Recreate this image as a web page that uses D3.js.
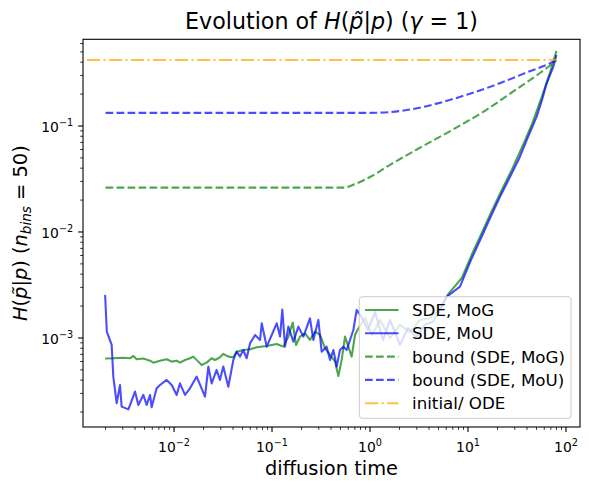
<!DOCTYPE html>
<html>
<head>
<meta charset="utf-8">
<script src="https://cdn.jsdelivr.net/npm/d3@7.9.0/dist/d3.min.js"></script>
<style>
  body { margin: 0; background: #fff; }
  svg { display: block; font-family: "DejaVu Sans", sans-serif; }
</style>
</head>
<body>
<svg id="chart" width="589" height="490"></svg>
<script>
// SDE, MoG (green)
const tMoG = [0.00198, 0.0024, 0.00304, 0.00356, 0.00385, 0.00416, 0.00486, 0.00569, 0.00615, 0.0072,
  0.00841, 0.00946, 0.01064, 0.0115, 0.01294, 0.01455, 0.01574, 0.0177, 0.01914, 0.0215,
  0.0242, 0.0262, 0.0294, 0.0318, 0.0358, 0.0403, 0.0436, 0.0509, 0.0597, 0.0698,
  0.0883, 0.1117, 0.1305, 0.1468, 0.1625, 0.1758, 0.193, 0.217, 0.244, 0.275,
  0.309, 0.348, 0.391, 0.44, 0.475, 0.514, 0.556, 0.601, 0.65, 0.703,
  0.76, 0.889, 1.048, 1.265, 1.6, 2.02, 2.56, 3.24, 4.1, 5.18,
  6.3, 7.4, 8.68, 11.0, 13.9, 17.6, 22.2, 28.1, 35.6, 45.0, 56.9,
  68.7, 80.0];
const hMoG = [6.4e-4, 6.43e-4, 6.5e-4, 6.43e-4, 6.77e-4, 6.3e-4, 6.4e-4, 6.1e-4, 5.85e-4, 6.1e-4,
  6.3e-4, 5.98e-4, 6.1e-4, 5.85e-4, 6.2e-4, 6.43e-4, 6.67e-4, 5.98e-4, 5.56e-4, 5.85e-4,
  6.43e-4, 6.2e-4, 6.57e-4, 7.07e-4, 6.67e-4, 6.57e-4, 7.43e-4, 7.7e-4, 7.82e-4, 8.17e-4,
  8.41e-4, 8.77e-4, 8.28e-4, 1.03e-3, 1.4e-3, 8.59e-4, 1.03e-3, 1.107e-3, 9.58e-4, 1.148e-3,
  1.067e-3, 7.99e-4, 6.92e-4, 5.98e-4, 4.38e-4, 6.2e-4, 1.03e-3, 8.28e-4, 6.67e-4, 1.067e-3,
  1.23e-3, 1.545e-3, 1.067e-3, 1.48e-3, 1.0e-3, 1.33e-3, 1.14e-3, 1.48e-3, 1.545e-3, 1.9e-3,
  2.6e-3, 3.1e-3, 3.7e-3, 6.2e-3, 9.9e-3, 0.016, 0.025, 0.039, 0.063, 0.104, 0.19,
  0.32, 0.51];

// SDE, MoU (blue)
const tMoU = [0.00198, 0.00206, 0.00231, 0.0024, 0.0026, 0.00281, 0.00292, 0.00342, 0.004, 0.00432,
  0.00486, 0.00526, 0.00569, 0.00591, 0.00665, 0.0072, 0.00841, 0.00946, 0.01064, 0.0115,
  0.01294, 0.01455, 0.01702, 0.0207, 0.0224, 0.0242, 0.0272, 0.0294, 0.0318, 0.0358,
  0.0403, 0.0436, 0.0471, 0.0509, 0.0551, 0.0597, 0.0671, 0.0755, 0.0785, 0.0883,
  0.0993, 0.1117, 0.1207, 0.1274, 0.1358, 0.1468, 0.165, 0.1857, 0.209, 0.244,
  0.264, 0.297, 0.321, 0.361, 0.391, 0.423, 0.457, 0.494, 0.535, 0.578,
  0.676, 0.731, 0.828, 0.954, 1.125, 1.358, 1.6, 2.02, 2.44, 2.95,
  3.64, 4.39, 5.18, 6.07, 8.28, 10.5, 13.3, 16.8, 21.2, 26.8,
  33.9, 40.9, 50.2, 56.9, 63.5, 74.2, 80.0];
const hMoU = [2.55e-3, 1.15e-3, 8.6e-4, 4.32e-4, 2.42e-4, 3.6e-4, 2.25e-4, 2.12e-4, 3.12e-4, 2.33e-4,
  2.9e-4, 2.33e-4, 2.9e-4, 2.22e-4, 3.35e-4, 3.6e-4, 4.02e-4, 3.6e-4, 2.9e-4, 3.73e-4,
  2.9e-4, 3.35e-4, 4.32e-4, 2.8e-4, 5.37e-4, 3.73e-4, 4.99e-4, 4.02e-4, 5.37e-4, 3.47e-4,
  6.2e-4, 7.43e-4, 6.67e-4, 7.7e-4, 6.43e-4, 8.91e-4, 1.067e-3, 9.58e-4, 1.375e-3, 8.28e-4,
  1.067e-3, 1.375e-3, 1.03e-3, 1.85e-3, 8.28e-4, 1.28e-3, 9.23e-4, 1.28e-3, 1.03e-3, 1.53e-3,
  9.58e-4, 1.48e-3, 7.43e-4, 8.28e-4, 6.2e-4, 7.7e-4, 5.37e-4, 7.7e-4, 8.28e-4, 7.7e-4,
  1.19e-3, 1.84e-3, 1.545e-3, 1.19e-3, 1.76e-3, 9.57e-4, 1.48e-3, 8.59e-4, 1.24e-3, 1.02e-3,
  1.33e-3, 1.42e-3, 1.84e-3, 2.45e-3, 3.05e-3, 5.2e-3, 8.41e-3, 0.01355, 0.0215, 0.033,
  0.0513, 0.0787, 0.1225, 0.176, 0.253, 0.362, 0.468];

// bounds
const tBoundMoG = [0.002, 0.55, 0.65, 1.0, 1.6, 3.0, 7.67, 15.0, 29.0, 50.0, 74.3, 80.0];
const hBoundMoG = [0.0262, 0.0262, 0.0275, 0.033, 0.043, 0.060, 0.097, 0.14, 0.212, 0.30, 0.395, 0.42];
const tBoundMoU = [0.002, 0.9, 1.265, 2.366, 4.786, 9.68, 19.6, 39.7, 74.3, 80.0];
const hBoundMoU = [0.133, 0.133, 0.1337, 0.1413, 0.1626, 0.197, 0.2466, 0.32, 0.405, 0.42];

// initial / ODE
const tODE = [0.00129, 80.0];
const hODE = [0.42, 0.42];

const xTicks = [1e-2, 1e-1, 1e0, 1e1, 1e2];
const xTickExp = ["\u22122", "\u22121", "0", "1", "2"];
const yTicks = [1e-3, 1e-2, 1e-1];
const yTickExp = ["\u22123", "\u22122", "\u22121"];

const legendLabels = ["SDE, MoG", "SDE, MoU", "bound (SDE, MoG)", "bound (SDE, MoU)", "initial/ ODE"];

const svg = d3.select("#chart");
const pL = 83, pR = 580, pT = 39.3, pB = 427;

const x = d3.scaleLog().domain([Math.pow(10, -2.929), Math.pow(10, 2.143)]).range([pL, pR]);
const y = d3.scaleLog().domain([Math.pow(10, -3.84), Math.pow(10, -0.182)]).range([pB, pT]);

const zip = (a, b) => a.map((v, i) => [v, b[i]]);

svg.append("defs").append("clipPath").attr("id", "clip")
  .append("rect").attr("x", pL).attr("y", pT).attr("width", pR - pL).attr("height", pB - pT);

const line = d3.line().x(d => x(d[0])).y(d => y(d[1]));
const smooth = d3.line().x(d => x(d[0])).y(d => y(d[1])).curve(d3.curveMonotoneX);

const series = [
  { data: zip(tMoG, hMoG), color: "green", dash: null, gen: line },
  { data: zip(tMoU, hMoU), color: "blue", dash: null, gen: line },
  { data: zip(tBoundMoG, hBoundMoG), color: "green", dash: "7.7,3.3", gen: smooth },
  { data: zip(tBoundMoU, hBoundMoU), color: "blue", dash: "7.7,3.3", gen: smooth },
  { data: zip(tODE, hODE), color: "orange", dash: "13.3,3.3,2.1,3.3", gen: line }
];

const plot = svg.append("g").attr("clip-path", "url(#clip)");
series.forEach(s => {
  plot.append("path")
    .attr("d", s.gen(s.data))
    .attr("fill", "none")
    .attr("stroke", s.color)
    .attr("stroke-opacity", 0.7)
    .attr("stroke-width", 2.08)
    .attr("stroke-linejoin", "round")
    .attr("stroke-dasharray", s.dash);
});

// axes
const minorX = [], minorY = [];
for (let e = -3; e <= 2; e++) for (let k = 2; k <= 9; k++) {
  const v = k * Math.pow(10, e);
  if (x(v) >= pL && x(v) <= pR) minorX.push(v);
}
for (let e = -4; e <= 0; e++) for (let k = 2; k <= 9; k++) {
  const v = k * Math.pow(10, e);
  if (y(v) <= pB && y(v) >= pT) minorY.push(v);
}

const axes = svg.append("g").attr("stroke", "#000");
minorX.forEach(v => axes.append("line").attr("x1", x(v)).attr("x2", x(v)).attr("y1", pB).attr("y2", pB + 2.8).attr("stroke-width", 0.8));
xTicks.forEach(v => axes.append("line").attr("x1", x(v)).attr("x2", x(v)).attr("y1", pB).attr("y2", pB + 4.9).attr("stroke-width", 1.1));
minorY.forEach(v => axes.append("line").attr("x1", pL).attr("x2", pL - 2.8).attr("y1", y(v)).attr("y2", y(v)).attr("stroke-width", 0.8));
yTicks.forEach(v => axes.append("line").attr("x1", pL).attr("x2", pL - 4.9).attr("y1", y(v)).attr("y2", y(v)).attr("stroke-width", 1.1));

xTicks.forEach((v, i) => {
  const t = svg.append("text").attr("x", x(v)).attr("y", pB + 25).attr("text-anchor", "middle")
    .attr("font-size", 13.9).text("10");
  t.append("tspan").attr("dy", -6).attr("font-size", 9.7).text(xTickExp[i]);
});
yTicks.forEach((v, i) => {
  const t = svg.append("text").attr("x", pL - 9.8).attr("y", y(v) + 6.5).attr("text-anchor", "end")
    .attr("font-size", 13.9).text("10");
  t.append("tspan").attr("dy", -6).attr("font-size", 9.7).text(yTickExp[i]);
});

svg.append("rect").attr("x", pL).attr("y", pT).attr("width", pR - pL).attr("height", pB - pT)
  .attr("fill", "none").attr("stroke", "#000").attr("stroke-width", 1.1);

// title
const title = svg.append("text").attr("x", (pL + pR) / 2).attr("y", 29).attr("text-anchor", "middle").attr("font-size", 22.2);
title.append("tspan").text("Evolution of ");
title.append("tspan").attr("font-style", "italic").text("H");
title.append("tspan").text("(");
title.append("tspan").attr("font-style", "italic").text("p\u0303");
title.append("tspan").text("|");
title.append("tspan").attr("font-style", "italic").text("p");
title.append("tspan").text(") (");
title.append("tspan").attr("font-style", "italic").text("\u03b3");
title.append("tspan").text(" = 1)");

// x label
svg.append("text").attr("x", (pL + pR) / 2).attr("y", 475).attr("text-anchor", "middle")
  .attr("font-size", 19.4).text("diffusion time");

// y label
const yl = svg.append("text").attr("transform", `translate(27,${(pT + pB) / 2}) rotate(-90)`)
  .attr("text-anchor", "middle").attr("font-size", 19.4);
yl.append("tspan").attr("font-style", "italic").text("H");
yl.append("tspan").text("(");
yl.append("tspan").attr("font-style", "italic").text("p\u0303");
yl.append("tspan").text("|");
yl.append("tspan").attr("font-style", "italic").text("p");
yl.append("tspan").text(") (");
yl.append("tspan").attr("font-style", "italic").text("n");
yl.append("tspan").attr("font-style", "italic").attr("font-size", 13.6).attr("dy", 4).text("bins");
yl.append("tspan").attr("dy", -4).text(" = 50)");

// legend
const lg = svg.append("g");
lg.append("rect").attr("x", 359.3).attr("y", 296.7).attr("width", 211.7).attr("height", 121.6)
  .attr("rx", 3).attr("fill", "#fff").attr("fill-opacity", 0.8).attr("stroke", "#cccccc").attr("stroke-width", 1);
const rowY = [310, 333.3, 356.6, 379.9, 403.2];
series.forEach((s, i) => {
  lg.append("line").attr("x1", 365).attr("x2", 398.5).attr("y1", rowY[i]).attr("y2", rowY[i])
    .attr("stroke", s.color).attr("stroke-opacity", 0.7).attr("stroke-width", 2.08)
    .attr("stroke-dasharray", s.dash);
  lg.append("text").attr("x", 412).attr("y", rowY[i] + 6).attr("font-size", 16.7).text(legendLabels[i]);
});
</script>
</body>
</html>
